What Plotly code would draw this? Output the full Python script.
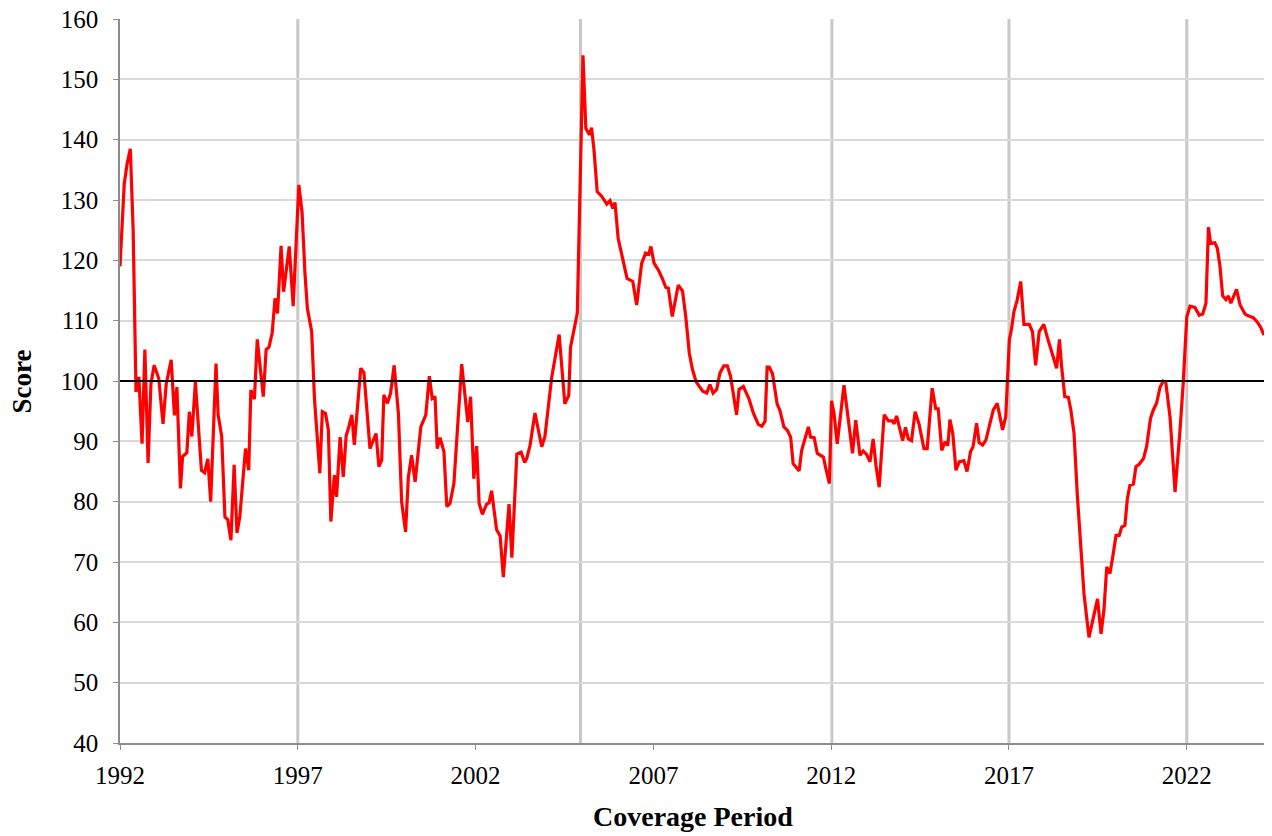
import plotly.graph_objects as go

# Decimal year and score values
years = [
    1992.00, 1992.12, 1992.20, 1992.29, 1992.37, 1992.45, 1992.53, 1992.62, 1992.70, 1992.79,
    1992.87, 1992.96, 1993.09, 1993.21, 1993.30, 1993.44, 1993.53, 1993.60, 1993.70, 1993.76,
    1993.88, 1993.95, 1994.02, 1994.12, 1994.29, 1994.38, 1994.47, 1994.55, 1994.70, 1994.76,
    1994.86, 1994.95, 1995.03, 1995.12, 1995.21, 1995.29, 1995.37, 1995.53, 1995.62, 1995.68,
    1995.78, 1995.86, 1996.03, 1996.11, 1996.19, 1996.28, 1996.36, 1996.43, 1996.53, 1996.60,
    1996.76, 1996.87, 1997.03, 1997.12, 1997.20, 1997.27, 1997.39, 1997.47, 1997.62, 1997.69,
    1997.78, 1997.86, 1997.93, 1998.03, 1998.09, 1998.19, 1998.28, 1998.36, 1998.44, 1998.52,
    1998.59, 1998.77, 1998.86, 1999.03, 1999.20, 1999.28, 1999.36, 1999.42, 1999.52, 1999.61,
    1999.71, 1999.83, 1999.92, 2000.03, 2000.11, 2000.20, 2000.30, 2000.46, 2000.60, 2000.70,
    2000.78, 2000.86, 2000.92, 2001.00, 2001.11, 2001.19, 2001.28, 2001.39, 2001.61, 2001.78,
    2001.86, 2001.95, 2002.03, 2002.10, 2002.19, 2002.31, 2002.38, 2002.45, 2002.59, 2002.69,
    2002.78, 2002.94, 2003.02, 2003.16, 2003.28, 2003.38, 2003.44, 2003.53, 2003.67, 2003.86,
    2003.95, 2004.14, 2004.35, 2004.51, 2004.62, 2004.67, 2004.86, 2005.02, 2005.10, 2005.20,
    2005.26, 2005.33, 2005.42, 2005.55, 2005.69, 2005.78, 2005.86, 2005.92, 2006.01, 2006.15,
    2006.26, 2006.42, 2006.53, 2006.67, 2006.78, 2006.87, 2006.93, 2007.02, 2007.14, 2007.25,
    2007.35, 2007.42, 2007.53, 2007.70, 2007.82, 2007.91, 2008.01, 2008.10, 2008.20, 2008.29,
    2008.39, 2008.50, 2008.59, 2008.68, 2008.78, 2008.87, 2008.98, 2009.08, 2009.17, 2009.34,
    2009.41, 2009.53, 2009.69, 2009.81, 2009.95, 2010.05, 2010.14, 2010.20, 2010.26, 2010.35,
    2010.48, 2010.56, 2010.67, 2010.77, 2010.86, 2010.93, 2011.01, 2011.10, 2011.17, 2011.26,
    2011.36, 2011.42, 2011.52, 2011.61, 2011.70, 2011.78, 2011.85, 2011.95, 2012.01, 2012.08,
    2012.17, 2012.36, 2012.45, 2012.60, 2012.69, 2012.81, 2012.90, 2013.00, 2013.09, 2013.18,
    2013.26, 2013.35, 2013.49, 2013.61, 2013.72, 2013.77, 2013.84, 2014.01, 2014.09, 2014.17,
    2014.26, 2014.36, 2014.47, 2014.61, 2014.70, 2014.84, 2014.94, 2015.01, 2015.11, 2015.20,
    2015.28, 2015.34, 2015.42, 2015.51, 2015.60, 2015.73, 2015.82, 2015.92, 2015.99, 2016.09,
    2016.16, 2016.26, 2016.35, 2016.47, 2016.56, 2016.67, 2016.82, 2016.91, 2017.01, 2017.07,
    2017.14, 2017.23, 2017.33, 2017.42, 2017.57, 2017.66, 2017.75, 2017.85, 2017.98, 2018.08,
    2018.24, 2018.34, 2018.42, 2018.48, 2018.57, 2018.67, 2018.74, 2018.83, 2018.92, 2019.02,
    2019.11, 2019.25, 2019.37, 2019.49, 2019.59, 2019.67, 2019.75, 2019.84, 2019.92, 2020.01,
    2020.10, 2020.17, 2020.26, 2020.33, 2020.40, 2020.50, 2020.57, 2020.66, 2020.78, 2020.87,
    2020.98, 2021.06, 2021.15, 2021.25, 2021.34, 2021.41, 2021.53, 2021.67, 2021.81, 2021.90,
    2022.00, 2022.09, 2022.23, 2022.35, 2022.45, 2022.54, 2022.61, 2022.67, 2022.79, 2022.86,
    2022.93, 2023.01, 2023.10, 2023.17, 2023.24, 2023.33, 2023.40, 2023.50, 2023.64, 2023.73,
    2023.87, 2023.98, 2024.08, 2024.17,
]

scores = [
    119.0, 132.7, 136.0, 138.5, 125.0, 98.2, 100.7, 89.6, 105.2, 86.4,
    99.5, 102.6, 100.4, 92.9, 99.5, 103.5, 94.3, 99.0, 82.2, 87.5,
    88.1, 94.9, 90.8, 99.8, 85.2, 84.8, 87.1, 80.0, 102.9, 94.4,
    90.8, 77.5, 77.0, 73.6, 86.1, 74.8, 77.5, 88.8, 85.2, 98.5,
    97.0, 106.9, 97.4, 105.2, 105.6, 108.0, 113.7, 111.2, 122.4, 114.8,
    122.3, 112.4, 132.5, 128.0, 118.0, 112.0, 108.2, 97.0, 84.7, 94.9,
    94.6, 91.9, 76.7, 84.4, 80.8, 90.7, 84.1, 90.9, 92.5, 94.4,
    89.4, 102.1, 101.4, 88.8, 91.3, 85.8, 86.9, 97.7, 96.3, 98.0,
    102.6, 94.6, 80.0, 75.0, 84.1, 87.7, 83.3, 92.4, 94.4, 100.8,
    97.1, 97.4, 88.8, 90.6, 88.3, 79.2, 79.7, 83.0, 102.8, 93.2,
    97.4, 83.8, 89.2, 79.7, 77.9, 79.6, 79.8, 81.8, 75.4, 74.3,
    67.5, 79.6, 70.7, 87.9, 88.2, 86.5, 87.2, 89.3, 94.7, 89.1,
    90.8, 100.6, 107.7, 96.2, 97.6, 105.6, 111.2, 154.0, 141.9, 140.8,
    142.0, 138.3, 131.4, 130.6, 129.3, 129.9, 128.6, 129.6, 123.6, 120.1,
    117.0, 116.5, 112.6, 119.5, 121.2, 121.0, 122.3, 119.5, 118.4, 117.0,
    115.5, 115.4, 110.7, 115.9, 114.9, 110.7, 104.6, 101.9, 99.9, 99.1,
    98.3, 98.0, 99.4, 98.0, 98.6, 101.3, 102.5, 102.5, 100.8, 94.4,
    98.6, 99.1, 97.0, 94.7, 92.8, 92.5, 93.3, 102.3, 102.3, 101.2,
    96.2, 95.1, 92.4, 91.8, 90.7, 86.3, 85.7, 85.1, 88.5, 90.4,
    92.4, 90.7, 90.6, 88.0, 87.7, 87.4, 85.5, 83.0, 96.7, 94.6,
    89.6, 99.3, 95.1, 88.0, 93.5, 87.7, 88.4, 87.8, 86.6, 90.4,
    86.0, 82.4, 94.4, 93.4, 93.4, 92.9, 94.2, 90.1, 92.3, 90.4,
    90.1, 94.9, 92.9, 88.8, 88.8, 98.8, 95.4, 95.4, 88.5, 89.9,
    89.3, 93.6, 91.3, 85.2, 86.6, 86.8, 85.0, 88.3, 89.1, 93.0,
    89.8, 89.4, 90.2, 93.0, 95.2, 96.3, 91.9, 94.1, 106.8, 108.6,
    111.5, 113.4, 116.5, 109.4, 109.4, 108.2, 102.6, 108.2, 109.4, 107.2,
    104.3, 102.1, 106.9, 102.4, 97.4, 97.3, 95.2, 91.3, 81.3, 71.4,
    64.7, 57.5, 60.8, 63.9, 58.1, 62.0, 69.2, 68.1, 70.9, 74.4,
    74.4, 75.8, 76.1, 80.5, 82.7, 82.9, 85.8, 86.2, 87.1, 89.1,
    93.8, 95.2, 96.3, 99.0, 100.0, 99.8, 94.0, 81.6, 91.8, 99.6,
    110.6, 112.4, 112.2, 110.9, 111.1, 112.9, 125.5, 122.8, 122.9, 122.0,
    119.2, 114.1, 113.5, 114.1, 112.9, 114.2, 115.2, 112.6, 111.1, 110.8,
    110.5, 109.8, 108.9, 107.6,
]

x_ticks = [1992, 1997, 2002, 2007, 2012, 2017, 2022]
y_ticks = [40, 50, 60, 70, 80, 90, 100, 110, 120, 130, 140, 150, 160]
event_years = [1997.0, 2004.95, 2012.02, 2017.0, 2022.0]
baseline = 100

FONT = "Liberation Serif, Times New Roman, serif"

fig = go.Figure()

shapes = []
for ey in event_years:
    shapes.append(dict(type="line", xref="x", yref="paper", x0=ey, x1=ey, y0=0, y1=1,
                       line=dict(color="#c8c8c8", width=3), layer="below"))
shapes.append(dict(type="line", xref="paper", yref="y", x0=0, x1=1, y0=baseline, y1=baseline,
                   line=dict(color="#000000", width=2), layer="above"))

fig.add_trace(go.Scatter(x=years, y=scores, mode="lines",
                         line=dict(color="#ff0000", width=3.2), showlegend=False,
                         hoverinfo="x+y"))

# page body has an 8px margin, so the figure is sized/offset to compensate
fig.update_layout(
    width=1264, height=828,
    margin=dict(l=112, r=7, t=11, b=93, autoexpand=False),
    paper_bgcolor="white", plot_bgcolor="white",
    font=dict(family=FONT, size=25, color="black"),
    shapes=shapes,
    xaxis=dict(
        range=[1992, 2024.2], tickmode="array", tickvals=x_ticks,
        ticktext=[str(t) for t in x_ticks],
        showgrid=False, zeroline=False,
        showline=True, linecolor="#8c8c8c", linewidth=1.5,
        ticks="outside", ticklen=5, tickcolor="#8c8c8c",
        tickfont=dict(family=FONT, size=25, color="black"),
        ticklabelstandoff=4, ticklabeloverflow="allow",
        automargin=False,
    ),
    yaxis=dict(
        range=[40, 160], tickmode="array", tickvals=y_ticks,
        showgrid=True, gridcolor="#d9d9d9", gridwidth=1.5, zeroline=False,
        showline=True, linecolor="#8c8c8c", linewidth=1.5,
        ticks="outside", ticklen=5, tickcolor="#8c8c8c",
        tickfont=dict(family=FONT, size=25, color="black"),
        ticklabelstandoff=10, ticklabeloverflow="allow",
        automargin=False,
    ),
    annotations=[
        dict(text="<b>Coverage Period</b>", xref="paper", yref="paper",
             x=0.5, y=-0.102, xanchor="center", yanchor="middle", showarrow=False,
             font=dict(family=FONT, size=28, color="black")),
        dict(text="<b>Score</b>", xref="paper", yref="paper",
             x=-0.0852, y=0.5, xanchor="center", yanchor="middle", showarrow=False,
             textangle=-90, font=dict(family=FONT, size=27, color="black")),
    ],
)

fig.write_html("out.html")
